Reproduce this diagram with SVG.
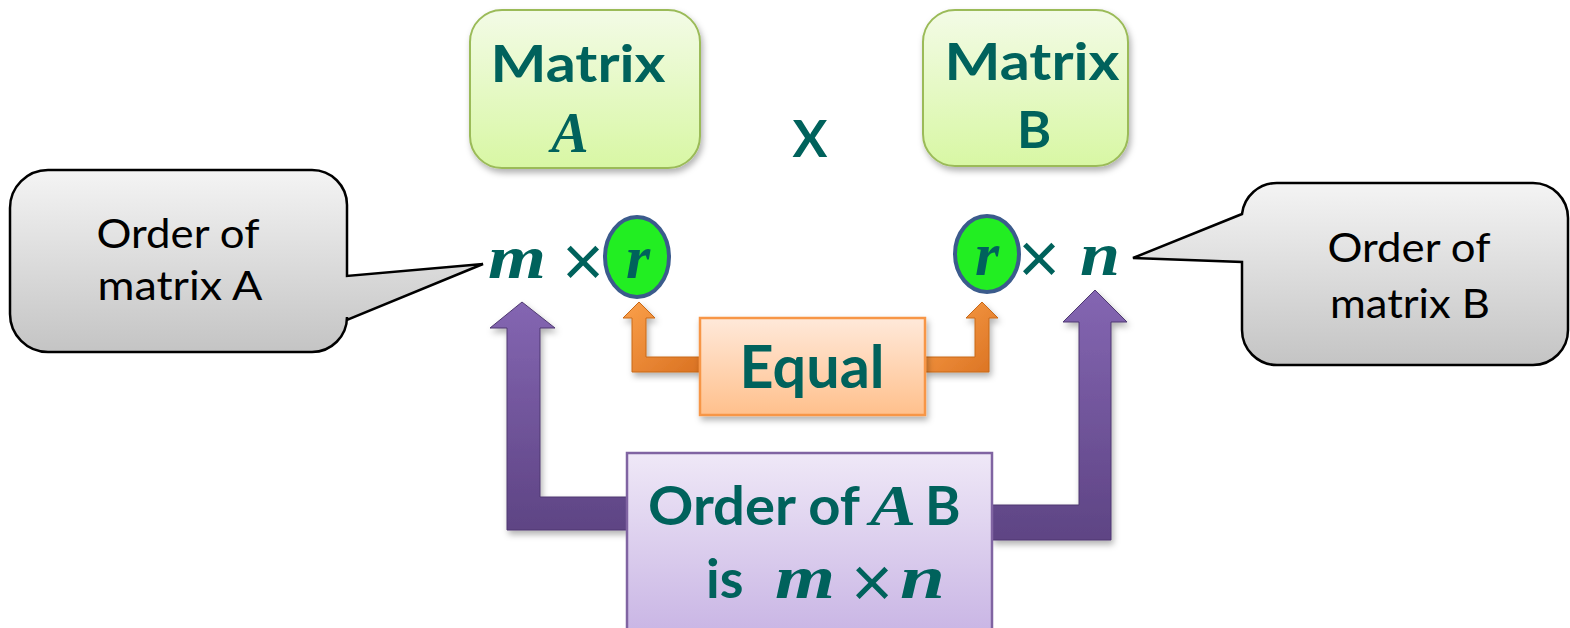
<svg xmlns="http://www.w3.org/2000/svg" width="1570" height="628" viewBox="0 0 1570 628">
<defs>
<linearGradient id="gGreen" x1="0" y1="0" x2="0" y2="1"><stop offset="0" stop-color="#F3FBE6"/><stop offset="1" stop-color="#D8F7A4"/></linearGradient>
<linearGradient id="gGray" x1="0" y1="0" x2="0" y2="1"><stop offset="0" stop-color="#F4F4F4"/><stop offset="1" stop-color="#C4C4C4"/></linearGradient>
<linearGradient id="gPeach" x1="0" y1="0" x2="0" y2="1"><stop offset="0" stop-color="#FFE9DA"/><stop offset="1" stop-color="#FFC08C"/></linearGradient>
<linearGradient id="gLilac" x1="0" y1="0" x2="0" y2="1"><stop offset="0" stop-color="#EFE8F7"/><stop offset="1" stop-color="#C8B4E4"/></linearGradient>
<linearGradient id="gOrange" x1="0" y1="0" x2="1" y2="1"><stop offset="0" stop-color="#FBA04A"/><stop offset="1" stop-color="#DA7222"/></linearGradient>
<linearGradient id="gPurple" x1="0" y1="0" x2="0" y2="1"><stop offset="0" stop-color="#8466B2"/><stop offset="1" stop-color="#5E4484"/></linearGradient>
<filter id="sh" x="-10%" y="-10%" width="120%" height="125%"><feDropShadow dx="2" dy="4" stdDeviation="3" flood-color="#000" flood-opacity="0.3"/></filter>
</defs>
<style>
.t{font-family:Lato,"Open Sans","Liberation Sans",sans-serif;font-weight:bold;fill:#00625C;}
.c{font-family:Lato,"Open Sans","Liberation Sans",sans-serif;fill:#000;font-size:40px;}
.m{font-family:"Liberation Serif","DejaVu Serif",serif;font-style:italic;font-weight:bold;fill:#00625C;}
.x{font-family:"Liberation Sans",sans-serif;fill:#00625C;}
.callout{fill:url(#gGray);stroke:#000;stroke-width:2.5;}
</style>

<g id="connectors">
  <polygon points="639,302 655,318 646,318 646,357 700,357 700,372 632,372 632,318 623,318" fill="url(#gOrange)" stroke="#C86818" stroke-width="1" filter="url(#sh)"/>
  <polygon points="982,302 998,318 989,318 989,372 925,372 925,357 975,357 975,318 966,318" fill="url(#gOrange)" stroke="#C86818" stroke-width="1" filter="url(#sh)"/>
  <polygon points="522,302 555,328 540,328 540,497 627,497 627,530 507,530 507,328 490,328" fill="url(#gPurple)" stroke="#4E3870" stroke-width="1" filter="url(#sh)"/>
  <polygon points="1095,290 1127,322 1111,322 1111,540 992,540 992,505 1079,505 1079,322 1063,322" fill="url(#gPurple)" stroke="#4E3870" stroke-width="1" filter="url(#sh)"/>
</g>

<g id="matrixA">
  <rect x="470" y="10" width="230" height="158" rx="32" fill="url(#gGreen)" stroke="#9BBB59" stroke-width="2" filter="url(#sh)"/>
  <text class="t" x="578" y="82" font-size="52" text-anchor="middle" textLength="175" lengthAdjust="spacingAndGlyphs">Matrix</text>
  <text class="m" x="570" y="152" font-size="56" text-anchor="middle">A</text>
</g>

<g id="times">
  <text class="t" x="810" y="157" font-size="52" text-anchor="middle">X</text>
</g>

<g id="matrixB">
  <rect x="923" y="10" width="205" height="156" rx="32" fill="url(#gGreen)" stroke="#9BBB59" stroke-width="2" filter="url(#sh)"/>
  <text class="t" x="1032" y="80" font-size="52" text-anchor="middle" textLength="175" lengthAdjust="spacingAndGlyphs">Matrix</text>
  <text class="t" x="1034" y="148" font-size="52" text-anchor="middle">B</text>
</g>

<g id="calloutA">
  <path class="callout" d="M48,170 H312 A35,35 0 0 1 347,205 V276 L483,264 L347,320 V317 A35,35 0 0 1 312,352 H48 A38,38 0 0 1 10,314 V208 A38,38 0 0 1 48,170 Z"/>
  <text class="c" x="178" y="248" text-anchor="middle" textLength="163" lengthAdjust="spacingAndGlyphs">Order of</text>
  <text class="c" x="180" y="300" text-anchor="middle" textLength="165" lengthAdjust="spacingAndGlyphs">matrix A</text>
</g>

<g id="calloutB">
  <path class="callout" d="M1277,183 H1533 A35,35 0 0 1 1568,218 V330 A35,35 0 0 1 1533,365 H1277 A35,35 0 0 1 1242,330 V262 L1133,258 L1242,214 A35,35 0 0 1 1277,183 Z"/>
  <text class="c" x="1409" y="262" text-anchor="middle" textLength="163" lengthAdjust="spacingAndGlyphs">Order of</text>
  <text class="c" x="1410" y="318" text-anchor="middle" textLength="160" lengthAdjust="spacingAndGlyphs">matrix B</text>
</g>

<g id="orderA">
  <text class="m" x="488" y="278" font-size="62" textLength="58" lengthAdjust="spacingAndGlyphs">m</text>
  <text class="x" x="583" y="286" font-size="72" text-anchor="middle">×</text>
  <ellipse cx="637" cy="257" rx="32" ry="40" fill="#22EE22" stroke="#3B5B8C" stroke-width="4"/>
  <text class="m" x="638" y="278" font-size="62" text-anchor="middle">r</text>
</g>

<g id="orderB">
  <ellipse cx="987" cy="254" rx="32" ry="38" fill="#22EE22" stroke="#3B5B8C" stroke-width="4"/>
  <text class="m" x="987" y="275" font-size="62" text-anchor="middle">r</text>
  <text class="x" x="1039" y="283" font-size="72" text-anchor="middle">×</text>
  <text class="m" x="1080" y="275" font-size="62" textLength="40" lengthAdjust="spacingAndGlyphs">n</text>
</g>

<g id="equal">
  <rect x="700" y="318" width="225" height="97" fill="url(#gPeach)" stroke="#F79646" stroke-width="2.5" filter="url(#sh)"/>
  <text class="t" x="812" y="388" font-size="60" text-anchor="middle" textLength="145" lengthAdjust="spacingAndGlyphs">Equal</text>
</g>

<g id="orderAB">
  <rect x="627" y="453" width="365" height="185" fill="url(#gLilac)" stroke="#8064A2" stroke-width="2.5"/>
  <text class="t" x="648" y="525" font-size="54" textLength="212" lengthAdjust="spacingAndGlyphs">Order of</text>
  <text class="m" x="870" y="525" font-size="58" textLength="46" lengthAdjust="spacingAndGlyphs">A</text>
  <text class="t" x="925" y="525" font-size="54">B</text>
  <text class="t" x="706" y="598" font-size="54">is</text>
  <text class="m" x="775" y="598" font-size="62" textLength="60" lengthAdjust="spacingAndGlyphs">m</text>
  <text class="x" x="872" y="607" font-size="72" text-anchor="middle">×</text>
  <text class="m" x="900" y="598" font-size="62" textLength="45" lengthAdjust="spacingAndGlyphs">n</text>
</g>
</svg>
